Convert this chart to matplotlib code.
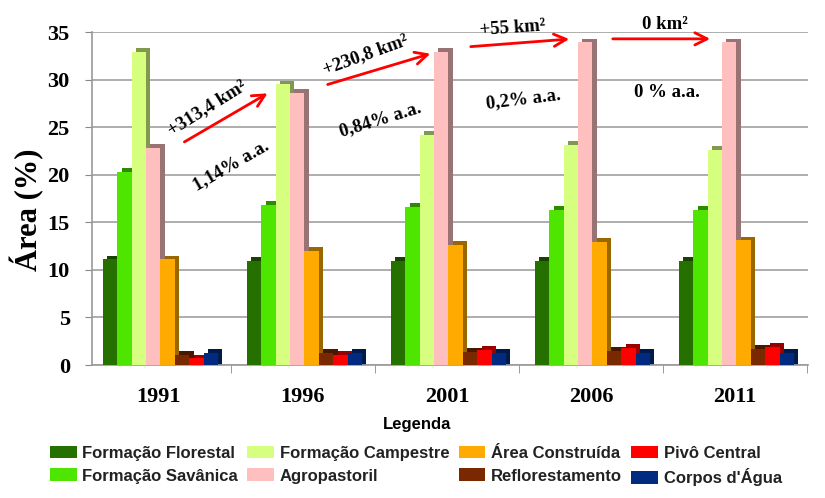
import matplotlib
matplotlib.use("Agg")
import matplotlib.pyplot as plt
import matplotlib.colors as mcolors
import numpy as np

years = ["1991", "1996", "2001", "2006", "2011"]
series_names = ["Formação Florestal", "Formação Savânica", "Formação Campestre",
                "Agropastoril", "Área Construída", "Reflorestamento",
                "Pivô Central", "Corpos d'Água"]
florestal = [11.1, 10.9, 10.9, 10.9, 10.9]
savanica = [20.3, 16.8, 16.6, 16.3, 16.3]
campestre = [32.9, 29.5, 24.2, 23.1, 22.6]
agropastoril = [22.8, 28.6, 32.9, 33.9, 33.9]
construida = [11.1, 12.0, 12.6, 12.9, 13.1]
reflorestamento = [1.1, 1.3, 1.4, 1.5, 1.7]
pivo = [0.7, 1.1, 1.6, 1.8, 1.9]
agua = [1.3, 1.3, 1.3, 1.3, 1.3]
values = [florestal, savanica, campestre, agropastoril, construida,
          reflorestamento, pivo, agua]
colors = ["#267000", "#4EE600", "#D6FF80", "#FFBFBF", "#FFAA00",
          "#7A2800", "#FF0000", "#002B80"]

fig = plt.figure(figsize=(8.25, 4.98), dpi=100)
ax = fig.add_axes([92 / 825, 1 - 365 / 498, 716 / 825, 333 / 498])

x = np.arange(len(years))
w = 0.1
n = len(values)
for i, (vals, c) in enumerate(zip(values, colors)):
    pos = x + 0.01 + (i - (n - 1) / 2) * w
    dark = tuple(v * 0.6 for v in mcolors.to_rgb(c))
    ax.bar(pos + w * 0.3, np.array(vals) + 0.4, width=w, color=dark,
           zorder=2 + i * 0.01, linewidth=0)
    ax.bar(pos, vals, width=w, color=c, zorder=3 + i * 0.01, linewidth=0,
           label=series_names[i])

ax.set_ylim(0, 35)
ax.set_xlim(-0.465, 4.507)
ax.set_yticks(np.arange(0, 36, 5))
ax.yaxis.grid(True, color="#a0a0a0", linewidth=1.2, zorder=0)
ax.set_axisbelow(True)
ax.set_xticks(x)
ax.set_xticklabels(years)
ax.set_xticks(list(x[:-1] + 0.5) + [4.5], minor=True)
ax.tick_params(axis="x", which="major", length=0, pad=16)
ax.tick_params(axis="x", which="minor", length=6, color="#888888")
ax.tick_params(axis="y", length=5, color="#888888", pad=11)
for lab in ax.get_xticklabels() + ax.get_yticklabels():
    lab.set_fontfamily("Liberation Serif")
    lab.set_fontweight("bold")
    lab.set_fontsize(16)
for s in ["top", "right"]:
    ax.spines[s].set_visible(False)
for s in ["left", "bottom"]:
    ax.spines[s].set_color("#999999")
    ax.spines[s].set_linewidth(1.2)

ax.set_ylabel("Área (%)", family="Liberation Serif", fontweight="bold",
              fontsize=22, va="center", ha="center")
ax.yaxis.set_label_coords(-0.091, 0.465)

arrows = [((0.16, 23.3), (0.771, 28.7)),
          ((1.153, 29.4), (1.903, 32.8)),
          ((2.146, 33.44), (2.868, 34.28)),
          ((3.132, 34.28), (3.847, 34.28))]
for (s, e) in arrows:
    ax.annotate("", xy=e, xytext=s, annotation_clip=False,
                arrowprops=dict(arrowstyle="->", color="red", lw=2,
                                mutation_scale=22), zorder=10)

texts = [("+313,4 km²", 0.333, 27.0, 32), ("1,14% a.a.", 0.50, 21.0, 30),
         ("+230,8 km²", 1.4375, 32.6, 20), ("0,84% a.a.", 1.535, 25.8, 17),
         ("+55 km²", 2.458, 35.4, 4), ("0,2% a.a.", 2.528, 27.9, 7),
         ("0 km²", 3.514, 35.75, 0), ("0 % a.a.", 3.528, 28.6, 0)]
for t, tx, ty, rot in texts:
    ax.text(tx, ty, t, rotation=rot, ha="center", va="center",
            rotation_mode="anchor",
            family="Liberation Serif", fontweight="bold", fontsize=13.5,
            clip_on=False, zorder=11)

fig.text(417 / 825, 1 - 425 / 498, "Legenda", ha="center", va="center",
         family="Liberation Sans", fontweight="bold", fontsize=12)
leg = fig.legend(loc="center", bbox_to_anchor=(416 / 825, 1 - 466 / 498),
                 ncol=4, frameon=False,
                 prop=dict(family="Liberation Sans", weight="bold", size=12),
                 handlelength=1.6, handleheight=0.8, columnspacing=0.55,
                 handletextpad=0.35, labelspacing=0.45, borderpad=0)
for t in leg.get_texts():
    t.set_color("#222222")

fig.savefig("out.png", dpi=100)
